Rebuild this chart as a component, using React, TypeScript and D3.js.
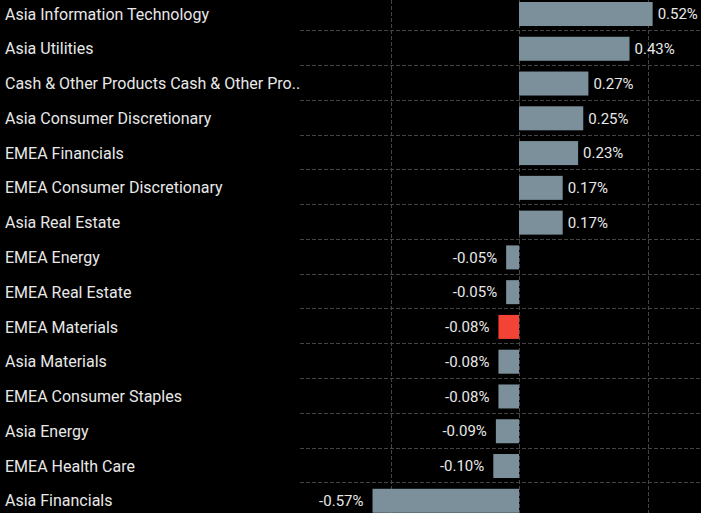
import { useEffect, useRef } from "react";
import * as d3 from "d3";

const categories = [
  "Asia Information Technology",
  "Asia Utilities",
  "Cash & Other Products Cash & Other Pro..",
  "Asia Consumer Discretionary",
  "EMEA Financials",
  "EMEA Consumer Discretionary",
  "Asia Real Estate",
  "EMEA Energy",
  "EMEA Real Estate",
  "EMEA Materials",
  "Asia Materials",
  "EMEA Consumer Staples",
  "Asia Energy",
  "EMEA Health Care",
  "Asia Financials",
];

const values = [0.52, 0.43, 0.27, 0.25, 0.23, 0.17, 0.17, -0.05, -0.05, -0.08, -0.08, -0.08, -0.09, -0.1, -0.57];

// the one highlighted bar
const highlighted = ["EMEA Materials"];

const gridTicks = [-0.5, 0, 0.5];

export default function App() {
  const svgRef = useRef<SVGSVGElement | null>(null);

  useEffect(() => {
    if (!svgRef.current) return;
    document.body.style.margin = "0";
    document.body.style.background = "#000";

    const width = 701;
    const height = 513;
    const font = "Roboto, 'Noto Sans', sans-serif";

    const svg = d3.select(svgRef.current);
    svg.selectAll("*").remove();
    svg.attr("width", width).attr("height", height);

    svg.append("rect").attr("width", width).attr("height", height).attr("fill", "#000");

    const rows = categories.map((c, i) => ({ name: c, value: values[i] }));

    const x = d3.scaleLinear().domain([-0.5, 0.5]).range([390.5, 647.5]);

    const step = 34.77;
    const y = d3
      .scaleBand()
      .domain(categories)
      .range([-4.5, -4.5 + step * categories.length])
      .paddingInner(0)
      .paddingOuter(0);

    const barH = 24;
    const barOff = 6.5;

    // horizontal grid between rows
    svg
      .append("g")
      .selectAll("line")
      .data(categories.slice(1))
      .enter()
      .append("line")
      .attr("x1", 300)
      .attr("x2", width)
      .attr("y1", (d) => Math.round(y(d)!) + 0.5)
      .attr("y2", (d) => Math.round(y(d)!) + 0.5)
      .attr("stroke", "#444")
      .attr("stroke-width", 1)
      .attr("stroke-dasharray", "4,2");

    // vertical grid
    svg
      .append("g")
      .selectAll("line")
      .data(gridTicks)
      .enter()
      .append("line")
      .attr("x1", (d) => Math.round(x(d)) + 0.5)
      .attr("x2", (d) => Math.round(x(d)) + 0.5)
      .attr("y1", 0)
      .attr("y2", height)
      .attr("stroke", "#444")
      .attr("stroke-width", 1)
      .attr("stroke-dasharray", "4,2");

    // bars
    svg
      .append("g")
      .selectAll("rect")
      .data(rows)
      .enter()
      .append("rect")
      .attr("x", (d) => x(Math.min(0, d.value)))
      .attr("width", (d) => Math.abs(x(d.value) - x(0)))
      .attr("y", (d) => y(d.name)! + barOff)
      .attr("height", barH)
      .attr("fill", (d) => (highlighted.includes(d.name) ? "#f44336" : "#7b909b"));

    // category labels
    svg
      .append("g")
      .selectAll("text")
      .data(rows)
      .enter()
      .append("text")
      .attr("x", 5)
      .attr("y", (d) => y(d.name)! + barOff + barH / 2)
      .attr("dy", "0.35em")
      .attr("fill", "#e8e8e8")
      .attr("font-family", font)
      .attr("font-size", 16)
      .text((d) => d.name);

    // value labels
    svg
      .append("g")
      .selectAll("text")
      .data(rows)
      .enter()
      .append("text")
      .attr("x", (d) => (d.value >= 0 ? x(d.value) + 5 : x(d.value) - 9))
      .attr("y", (d) => y(d.name)! + barOff + barH / 2)
      .attr("dy", "0.35em")
      .attr("text-anchor", (d) => (d.value >= 0 ? "start" : "end"))
      .attr("fill", "#e8e8e8")
      .attr("font-family", font)
      .attr("font-size", 15)
      .text((d) => `${d.value.toFixed(2)}%`);
  }, []);

  return (
    <div style={{ position: "absolute", left: 0, top: 0, background: "#000" }}>
      <svg ref={svgRef} style={{ display: "block" }}></svg>
    </div>
  );
}
